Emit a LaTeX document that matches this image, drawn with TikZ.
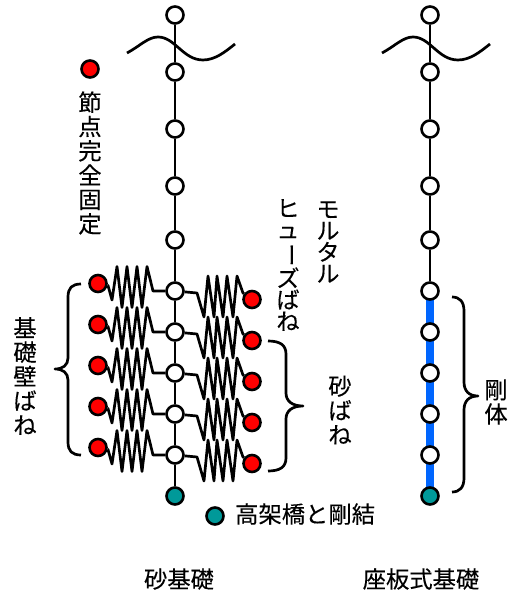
\documentclass[tikz,border=0pt]{standalone}
\usepackage{fontspec}
\usetikzlibrary{backgrounds}
\setmainfont[FakeBold=0.25]{Noto Sans CJK JP}
\newcommand{\vbar}{\rotatebox[origin=c]{-90}{ー}}
\tikzset{
    wire/.style={line width=2.7pt, line join=round},
    knot/.style={circle, draw, line width=2.6pt, minimum size=17pt, inner sep=0pt, fill=white},
    fixed/.style={knot, fill=red},
    jp/.style={inner sep=0pt, align=center, font=\fontsize{23.3}{24.3}\selectfont},
    jpk/.style={jp, font=\fontsize{23}{21.5}\selectfont},
}
\definecolor{tealknot}{HTML}{009999}
\definecolor{rigidbar}{HTML}{0066FF}
\begin{document}
\begin{tikzpicture}[x=1pt,y=-1pt]
    \useasboundingbox (0,0) rectangle (511,593);
    % columns of knots
    \foreach \col/\xx in {a/175,b/430} {
            \foreach \i/\y in {1/15,2/72,3/129,4/186,5/240,6/291,7/332,8/373,9/414,10/455} {
                    \node[knot] (\col\i) at (\xx,\y) {};
                }
            \node[knot,fill=tealknot] (\col11) at (\xx,496) {};
            \foreach \i/\j in {1/2,2/3,3/4,4/5,5/6} {
                    \draw[wire] (\col\i) -- (\col\j);
                }
        }
    \foreach \i/\j in {6/7,7/8,8/9,9/10,10/11} {
            \draw[wire] (a\i) -- (a\j);
            \begin{pgfonlayer}{background}
                \draw[line width=7.5pt,rigidbar] (b\i.center) -- (b\j.center);
            \end{pgfonlayer}
        }
    % cut marks
    \foreach \dx in {0,255} {
            \draw[wire,xshift=\dx pt] (127,53) .. controls (140,46) and (148,37) .. (158,37)
            .. controls (175,37) and (183,60) .. (203,60) .. controls (215,60) and (225,52) .. (235,44);
        }
    % springs
    \foreach \i/\y in {6/291,7/332,8/373,9/414,10/455} {
            \node[fixed] (l\i) at (98,\y-7.5) {};
            \node[fixed] (r\i) at (252,\y+8.5) {};
            \draw[wire] (l\i) -- ++(10,2) -- ++(4,14.5) -- ++(5,-33.5)
            -- ++(5,41) -- ++(5,-41) -- ++(5,41) -- ++(5,-41) -- ++(5,41) -- ++(5,-41)
            -- ++(6,24.5) -- (a\i);
            \draw[wire] (a\i) -- ++(22,2) -- ++(7,24)
            -- ++(4,-41) -- ++(6,41) -- ++(3,-41) -- ++(6,41) -- ++(4,-41) -- ++(6,41) -- ++(4,-41)
            -- ++(6,17) -- (r\i);
        }
    % braces
    \draw[wire] (81,284) .. controls (72,284) and (68,288) .. (68,297) -- (68,358)
    .. controls (68,365) and (63,369) .. (55,369) .. controls (63,369) and (68,373) .. (68,380)
    -- (68,442) .. controls (68,451) and (72,455) .. (81,455);
    \draw[wire] (268,341) .. controls (280,341) and (286,345) .. (286,354) -- (286,393)
    .. controls (286,401) and (292,406) .. (303,406) .. controls (292,406) and (286,411) .. (286,419)
    -- (286,458) .. controls (286,467) and (280,471) .. (268,471);
    \draw[wire] (452,297) .. controls (460,297) and (464,302) .. (464,311) -- (464,382)
    .. controls (464,391) and (469,396) .. (478,396) .. controls (469,396) and (464,401) .. (464,410)
    -- (464,478) .. controls (464,487) and (460,492) .. (452,492);
    % legend
    \node[fixed] (fixkey) at (90,69) {};
    \node[knot,fill=tealknot] (rigidkey) at (215,516) {};
    \node[jp] (fixtext) at (90,163) {節\\点\\完\\全\\固\\定};
    \node[jp,anchor=west] (rigidtext) at (235,514) {高架橋と剛結};
    % labels
    \node[jpk] (mortar) at (328,242) {モ\\ル\\タ\\ル};
    \node[jpk] (fuse) at (288,265) {ヒ\\ュ\\\vbar\\ズ\\ば\\ね};
    \node[jp] (wallsp) at (25,376) {基\\礎\\壁\\ば\\ね};
    \node[jp] (sandsp) at (340,410) {砂\\ば\\ね};
    \node[jp] (rigidbody) at (496,402) {剛\\体};
    \node[jp] (sandbase) at (179,579) {砂基礎};
    \node[jp] (platebase) at (421,579) {座板式基礎};
\end{tikzpicture}
\end{document}
